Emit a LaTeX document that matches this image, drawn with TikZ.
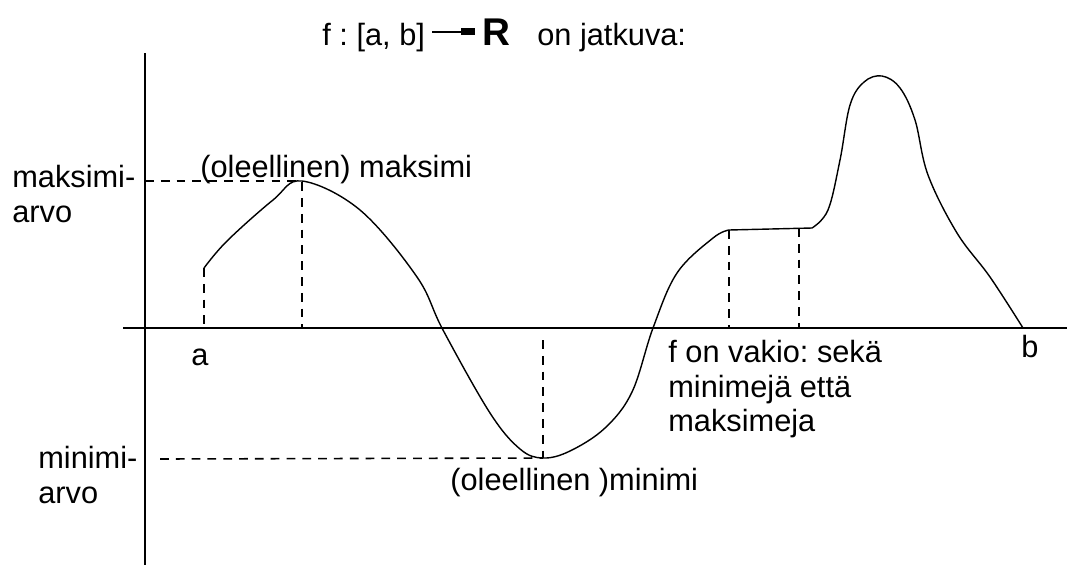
\documentclass[tikz,border=0pt]{standalone}
\usepackage{fontspec}
\setmainfont{Liberation Sans}
\usetikzlibrary{arrows.meta}
\frenchspacing

\begin{document}
\begin{tikzpicture}[
  x=0.02cm, y=-0.02cm,
  every node/.style={font=\fontsize{17.5}{19.6}\selectfont, inner sep=0pt},
  lbl/.style={anchor=base west},
  textblock/.style={anchor=north west, align=left},
  axisline/.style={line width=1.2pt},
  curve/.style={line width=0.8pt, line join=round},
  guide/.style={line width=0.9pt, dash pattern=on 5pt off 4pt},
  maparrow/.style={line width=1.1pt, -{Rectangle[length=8pt,width=4pt]}}
]
  \useasboundingbox (0,0) rectangle (1067,565);

  \coordinate (ytop) at (145,53);
  \coordinate (ybot) at (145,565);
  \coordinate (xleft) at (123,328);
  \coordinate (xright) at (1067,328);
  \draw[axisline] (ytop) -- (ybot);
  \draw[axisline] (xleft) -- (xright);

  \coordinate (A) at (204,268);
  \coordinate (Max) at (302,181);
  \coordinate (Min) at (543,458);
  \coordinate (Mintop) at (543,340);
  \coordinate (Minleft) at (160,459);
  \coordinate (P1) at (729,230);
  \coordinate (P2) at (799,228);
  \coordinate (P3) at (812,228);
  \coordinate (B) at (1023,328);

  \draw[curve] plot[smooth, tension=0.6] coordinates {(A) (227,241)
    (273,200) (Max) (360,210) (417,277) (443,330) (490,413) (520,449)
    (Min) (570,451) (605,428) (632,392) (653,328) (677,273) (713,238) (P1)};
  \draw[curve] (P1) -- (P3);
  \draw[curve] plot[smooth, tension=0.6] coordinates {(P3) (828,210)
    (840,160) (850,105) (864,82) (882,76) (900,88) (915,120) (928,175)
    (957,233) (990,277) (B)};

  \draw[guide] (A) -- (A |- xleft);
  \draw[guide] (ytop |- Max) -- (Max) -- (Max |- xleft);
  \draw[guide] (Minleft) -- (Min);
  \draw[guide] (Mintop) -- (Min);
  \draw[guide] (P1) -- (P1 |- xleft);
  \draw[guide] (P2) -- (P2 |- xleft);

  \node[lbl] (fmap) at (322,45) {f : [a, b]};
  \node[lbl, font=\fontsize{22}{22}\selectfont\bfseries] (reals) at (482,45) {R};
  \node[lbl] (jatkuva) at (537,45) {on jatkuva:};
  \draw[maparrow, shorten <=4pt, shorten >=4pt] (fmap.east |- reals.west) -- (reals.west);

  \node[textblock] (maxarvo) at (12,165) {maksimi-\\arvo};
  \node[textblock] (minarvo) at (38,446) {minimi-\\arvo};
  \node[lbl] (maxlabel) at (200,177) {(oleellinen) maksimi};
  \node[lbl] (minlabel) at (450,490) {(oleellinen )minimi};
  \node[anchor=base] (alabel) at (200,365) {a};
  \node[anchor=base] (blabel) at (1030,357) {b};
  \node[textblock] (vakio) at (668,340) {f on vakio: sekä\\minimejä että\\maksimeja};
\end{tikzpicture}
\end{document}
